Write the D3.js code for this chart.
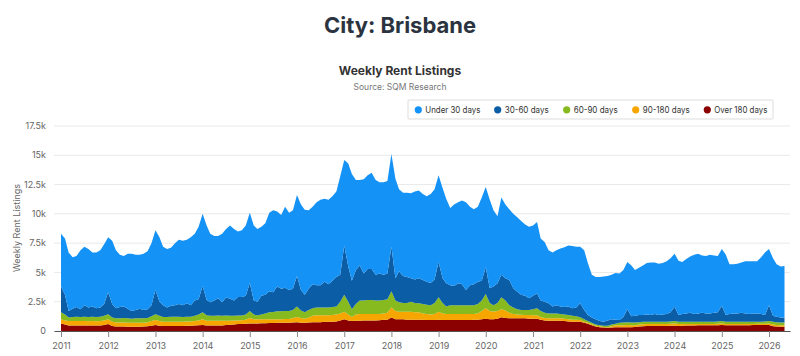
<!DOCTYPE html>
<html>
<head>
<meta charset="utf-8">
<script src="https://cdn.jsdelivr.net/npm/d3@7"></script>
<style>
  body { margin: 0; background: #fff; }
  svg { display: block; font-family: "Inter", "Noto Sans", sans-serif; }
</style>
</head>
<body>
<svg id="chart" width="800" height="356"></svg>
<script>
// ---- data (monthly, Jan 2011 .. May 2026) ----
const firstMonth = [2011, 0];
const monthCount = 185;

const over180 = [
  630,550,480,480,480,480,470,470,480,470,480,520,
  600,420,380,380,380,370,370,370,370,380,400,450,
  510,450,430,430,430,430,430,430,440,440,460,500,
  520,480,480,480,480,480,520,540,560,590,600,620,
  650,650,650,660,660,680,680,700,700,700,700,720,
  750,700,700,720,750,750,750,780,780,800,820,900,
  1000,900,850,880,880,900,900,900,900,920,950,950,
  1150,1000,1000,1000,970,950,950,950,950,940,940,940,
  950,940,940,940,940,940,940,940,940,950,970,1000,
  1050,1000,1000,1050,1170,1120,1080,1080,1080,1080,1080,1050,
  1050,1050,950,900,880,880,880,880,850,820,800,800,
  800,700,620,500,380,330,300,280,300,310,310,320,
  330,330,350,380,400,420,430,430,430,430,430,440,
  450,430,450,460,480,480,500,500,500,500,500,500,
  520,500,500,500,500,500,500,500,520,520,520,520,
  520,400,380,370,370
];
const d90to180 = [
  370,350,370,370,370,370,380,360,370,360,370,380,
  400,380,340,340,340,330,330,340,340,330,350,400,
  430,400,370,370,370,370,370,370,380,380,390,400,
  480,400,400,400,400,400,360,340,340,310,320,330,
  450,350,350,340,340,320,320,300,300,320,320,380,
  450,400,350,430,550,600,600,570,570,570,580,600,
  650,500,350,520,570,550,550,550,550,530,550,600,
  850,700,650,650,680,700,650,650,550,510,460,510,
  700,560,510,510,510,510,510,510,510,500,530,700,
  890,700,650,650,680,630,470,370,320,300,290,320,
  300,300,250,200,200,200,200,200,200,180,170,150,
  140,100,80,80,70,70,50,50,100,190,190,180,
  190,170,150,170,180,180,170,170,170,170,170,180,
  180,170,150,140,120,120,100,100,100,100,100,120,
  130,100,100,100,100,100,100,100,80,100,100,100,
  130,150,140,130,130
];
const d60to90 = [
  600,500,300,350,370,350,370,370,370,370,370,400,
  420,350,360,360,380,380,350,370,370,370,370,400,
  480,450,400,400,420,420,420,400,400,400,450,500,
  600,470,420,420,440,420,440,420,400,420,400,450,
  600,400,350,400,500,600,620,680,680,680,680,700,
  900,650,550,650,650,650,650,650,650,680,700,1000,
  1450,1100,650,900,1150,1150,1200,1200,1150,1150,1150,1150,
  1400,900,800,750,750,850,800,760,800,800,800,950,
  1230,900,650,750,750,750,750,750,750,750,800,900,
  1220,700,550,700,1030,850,650,550,450,420,430,430,
  500,590,500,450,420,420,420,370,350,370,330,300,
  230,200,150,120,100,100,100,120,150,120,200,220,
  230,220,220,200,200,200,200,200,200,200,200,200,
  220,200,200,200,200,200,200,200,200,200,200,200,
  200,200,200,200,200,200,200,200,200,180,180,200,
  200,230,230,220,220
];
const d30to60 = [
  2200,1700,550,700,830,650,980,800,880,750,780,1000,
  1880,1150,870,970,1000,820,650,720,820,720,730,950,
  2080,1200,1000,800,930,980,1080,1000,1140,980,1300,1300,
  2250,1300,1150,1300,1480,1150,1530,1450,1300,1580,1580,1600,
  2400,1200,1150,1600,1600,1800,1680,2120,1920,2000,1800,1800,
  2600,1750,1500,1800,2050,1900,1900,2200,2000,2250,2500,2300,
  4200,3000,2450,2900,3000,2300,2650,2650,2200,2300,2150,2200,
  3800,1900,2650,2300,2200,2000,2000,2140,2060,1950,1900,2000,
  3020,2100,1970,1700,1650,1870,1800,1300,1700,1800,1900,1700,
  2290,1250,1600,1670,1920,1900,2160,1650,1510,1300,1200,1000,
  1150,1260,900,950,860,600,700,650,650,730,650,750,
  1190,800,520,450,450,350,350,450,450,330,240,480,
  1100,530,580,620,590,600,570,650,570,600,650,780,
  1230,570,650,700,750,650,700,750,700,700,750,780,
  1310,570,650,700,700,750,700,650,700,700,650,550,
  1350,520,470,430,420
];
const under30 = [
  4500,4800,5000,4400,4350,5050,5000,5000,4600,4750,4900,5100,
  4700,5400,4950,4450,4300,4700,4900,4700,4600,4800,4950,5300,
  5100,5500,5000,5000,4950,5300,5500,5500,5440,5800,5700,6200,
  6150,6350,5850,5500,5300,5850,5850,6250,6100,5600,5700,6000,
  6000,6400,6200,5900,6100,6700,7000,6400,6300,6900,6600,6700,
  6900,7300,7250,6700,6600,7100,7300,7100,7200,7200,7300,8400,
  7300,8800,9100,7700,7300,8050,8000,8200,8100,7800,7900,7900,
  7900,8500,7000,7100,7200,7250,7500,7500,7340,7300,7600,7700,
  7400,7700,7230,6600,6950,6930,7150,7500,6700,6400,6400,7100,
  6850,7550,6500,5730,6600,6300,6040,6350,6340,6300,6100,6100,
  6000,6100,5300,5100,4540,4600,4700,4950,5100,5200,5300,5200,
  4840,5100,4430,3650,3600,3750,3850,3800,3800,4000,3960,4000,
  4050,4350,3900,4030,4230,4400,4480,4400,4380,4400,4500,4600,
  4520,4630,4450,4650,4800,5050,5100,4900,4900,5000,4900,4800,
  4840,5130,4250,4200,4250,4300,4450,4500,4450,4450,4850,5330,
  4800,4900,4480,4350,4410
];

const seriesNames = ["Under 30 days", "30-60 days", "60-90 days", "90-180 days", "Over 180 days"];
const seriesColors = ["#1592f5", "#0b5ea6", "#87ba1f", "#f7a600", "#8b0000"];
const yTickValues = [0, 2500, 5000, 7500, 10000, 12500, 15000, 17500];
const yTickLabels = ["0", "2.5k", "5k", "7.5k", "10k", "12.5k", "15k", "17.5k"];
const xTickYears = [2011,2012,2013,2014,2015,2016,2017,2018,2019,2020,2021,2022,2023,2024,2025,2026];

// ---- build ----
const svg = d3.select("#chart");
const plotL = 54, plotR = 790, plotT = 126, plotB = 331;

const months = d3.range(monthCount).map(i => new Date(firstMonth[0], firstMonth[1] + i, 1));
const rows = months.map((d, i) => ({
  date: d,
  "Over 180 days": over180[i],
  "90-180 days": d90to180[i],
  "60-90 days": d60to90[i],
  "30-60 days": d30to60[i],
  "Under 30 days": under30[i]
}));

const base = d3.scaleTime()
  .domain([new Date(2011, 0, 1), new Date(2026, 0, 1)])
  .range([61, 769]);
const x = d3.scaleTime()
  .domain([base.invert(plotL), base.invert(plotR)])
  .range([plotL, plotR]);
const y = d3.scaleLinear().domain([0, 17500]).range([plotB, plotT]);

// grid
svg.append("g").selectAll("line")
  .data(yTickValues.filter(v => v > 0))
  .join("line")
  .attr("x1", plotL).attr("x2", plotR)
  .attr("y1", d => y(d)).attr("y2", d => y(d))
  .attr("stroke", "#e9e9e9").attr("stroke-width", 1);

// y labels
svg.append("g").selectAll("text")
  .data(yTickValues)
  .join("text")
  .attr("x", 46).attr("y", d => y(d)).attr("dy", "0.35em")
  .attr("text-anchor", "end")
  .attr("font-size", 9).attr("fill", "#666")
  .text((d, i) => yTickLabels[i]);

// y title
svg.append("text")
  .attr("transform", "translate(20,228) rotate(-90)")
  .attr("text-anchor", "middle")
  .attr("font-size", 9).attr("fill", "#666")
  .text("Weekly Rent Listings");

// stacked areas
const stackKeys = seriesNames.slice().reverse(); // bottom first
const stacked = d3.stack().keys(stackKeys)(rows);
const area = d3.area()
  .x(d => x(d.data.date))
  .y0(d => y(d[0]))
  .y1(d => y(d[1]))
  .curve(d3.curveLinear);
svg.append("g").selectAll("path")
  .data(stacked)
  .join("path")
  .attr("d", area)
  .attr("fill", d => seriesColors[seriesNames.indexOf(d.key)]);

// x axis
const xAxis = d3.axisBottom(x)
  .tickValues(xTickYears.map(yr => new Date(yr, 0, 1)))
  .tickFormat(d3.timeFormat("%Y"))
  .tickSize(6).tickSizeOuter(0);
const gx = svg.append("g").attr("transform", `translate(0,${plotB})`).call(xAxis);
gx.select(".domain").attr("stroke", "#555");
gx.selectAll(".tick line").attr("stroke", "#888");
gx.selectAll(".tick text").attr("font-size", 9).attr("fill", "#666")
  .attr("font-family", "Inter, 'Noto Sans', sans-serif").attr("dy", "1em");

// titles
svg.append("text").attr("x", 400).attr("y", 33).attr("text-anchor", "middle")
  .attr("font-size", 22).attr("font-weight", 700).attr("fill", "#2b3340")
  .text("City: Brisbane");
svg.append("text").attr("x", 400).attr("y", 75).attr("text-anchor", "middle")
  .attr("font-size", 12).attr("font-weight", 700).attr("fill", "#333")
  .text("Weekly Rent Listings");
svg.append("text").attr("x", 400).attr("y", 90).attr("text-anchor", "middle")
  .attr("font-size", 8.5).attr("fill", "#777")
  .text("Source: SQM Research");

// legend
const lg = svg.append("g");
lg.append("rect")
  .attr("x", 408).attr("y", 100).attr("width", 365).attr("height", 19)
  .attr("fill", "#fff").attr("stroke", "#ddd").attr("rx", 1);
const lgCircleX = [418.3, 497.7, 566.7, 635.7, 707.3];
const lgTextW = [55, 44, 44, 47, 53];
seriesNames.forEach((name, i) => {
  lg.append("circle").attr("cx", lgCircleX[i]).attr("cy", 109.8).attr("r", 3.6)
    .attr("fill", seriesColors[i]);
  lg.append("text").attr("x", lgCircleX[i] + 7).attr("y", 109.8).attr("dy", "0.35em")
    .attr("font-size", 8.5).attr("fill", "#333")
    .attr("textLength", lgTextW[i]).attr("lengthAdjust", "spacingAndGlyphs")
    .text(name);
});
</script>
</body>
</html>
